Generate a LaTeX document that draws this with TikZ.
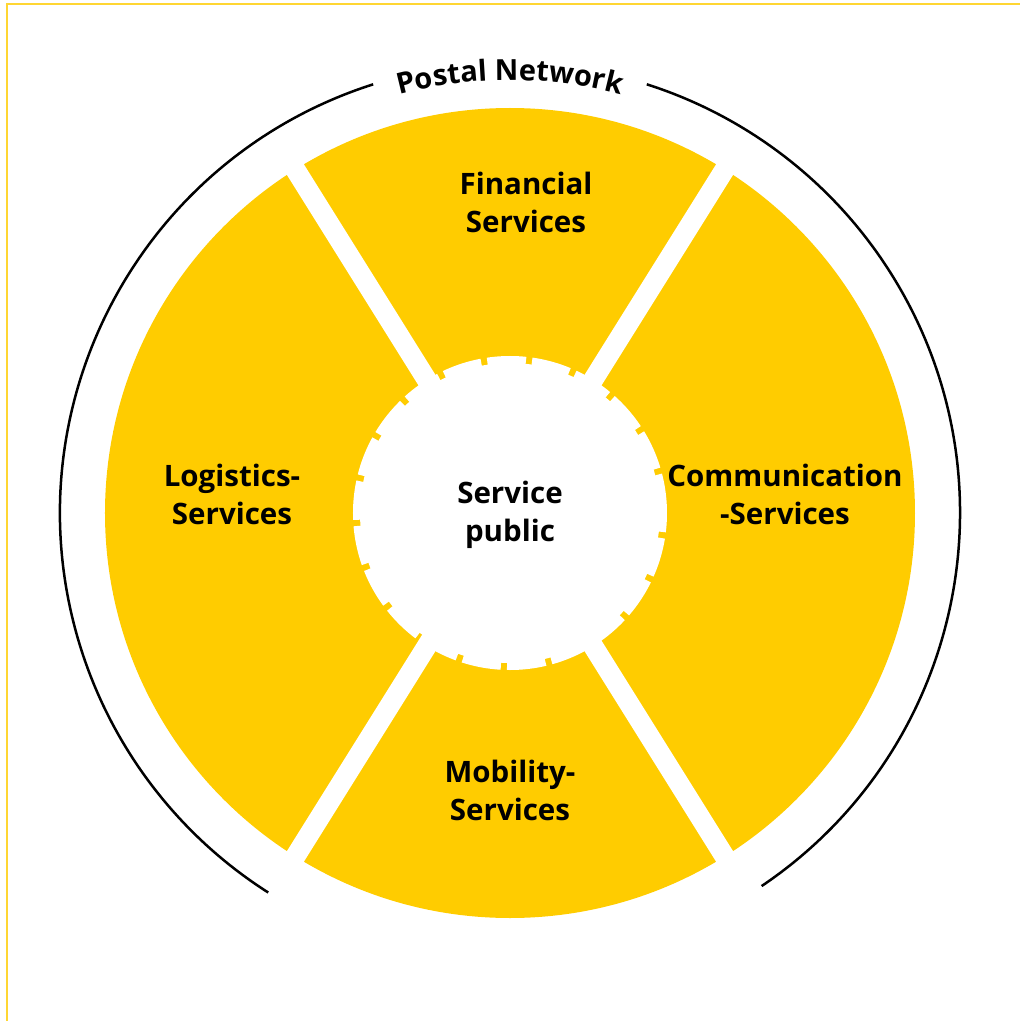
\documentclass[tikz,border=0pt]{standalone}
\usepackage{fontspec}
\setmainfont{Open Sans}
\usetikzlibrary{decorations.text}
\definecolor{postyellow}{HTML}{FFCC00}
\definecolor{framey}{HTML}{FFD633}
\begin{document}
\begin{tikzpicture}[x=1pt,y=1pt,
  lbl/.style={font=\bfseries\fontsize{29.5}{38}\selectfont, align=center, text=black, inner sep=0pt},
  gapline/.style={white, line width=20pt},
  ring/.style={black, line width=2.5pt}
]
\useasboundingbox (-510,-508) rectangle (510,513);
\draw[framey, line width=2pt] (-502.5,-508) -- (-502.5,509) -- (510,509);
\fill[postyellow] (0,0) circle (405);
\draw[gapline] (58:420) -- (238:420);
\draw[gapline] (122:420) -- (302:420);
\fill[white] (0,0) circle (150);
\draw[white, line width=14pt, dash pattern=on 38pt off 6pt] (0,0) circle (150);
\draw[ring] (107.7:450) arc (107.7:237.5:450);
\draw[ring] (-56:450) arc (-56:72.3:450);
\path[decorate, decoration={text along path, text align=center, text={|\bfseries\fontsize{29}{29}\selectfont|Postal Network}}] (112:433) arc (112:68:433);
\node[lbl] (fin) at (16,311) {Financial\\Services};
\node[lbl] (log) at (-278,19) {Logistics-\\Services};
\node[lbl] (com) at (275,19) {Communication\\-Services};
\node[lbl] (mob) at (0,-277) {Mobility-\\Services};
\node[lbl] (sp) at (0,-2) {Service\\public};
\end{tikzpicture}
\end{document}
